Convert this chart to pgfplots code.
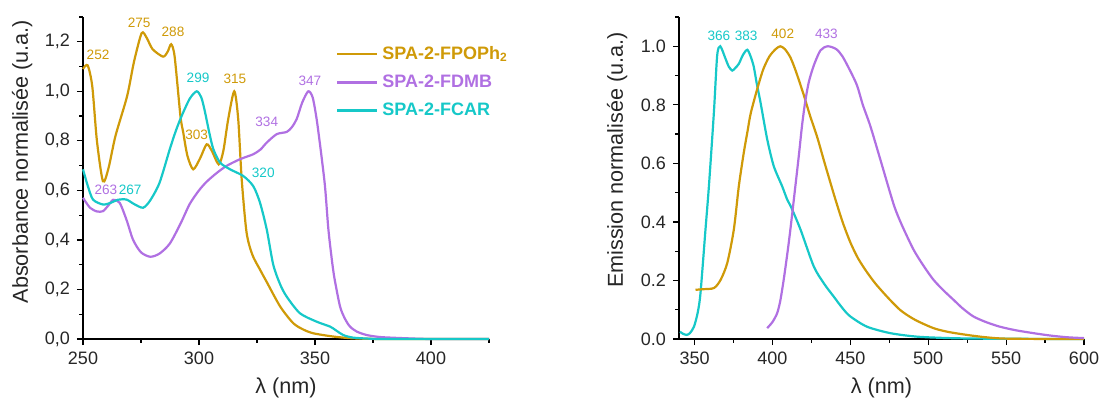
\documentclass[border=0pt]{standalone}
\usepackage{fontspec}
\setmainfont{Liberation Sans}
\usepackage{pgfplots}
\pgfplotsset{compat=1.18}
\definecolor{cgold}{RGB}{207,154,8}
\definecolor{cpurp}{RGB}{176,112,226}
\definecolor{ccyan}{RGB}{22,200,200}
\tikzset{pk/.style={font=\fontsize{6.8}{7}\selectfont}}
\pgfplotsset{
  specstyle/.style={
    scale only axis, width=203pt, height=161pt,
    axis lines=left, axis line style={-, line width=0.65pt, black},
    tick align=outside, major tick length=3pt, minor tick length=1.8pt,
    tick style={black, line width=0.6pt},
    tick label style={font=\fontsize{9}{10}\selectfont, text=black!85},
    label style={font=\fontsize{10.8}{12}\selectfont, text=black!85},
    /pgf/number format/assume math mode=true,
    every axis plot/.append style={line width=1.1pt, smooth, tension=0.45},
    clip=false,
  },
}
\begin{document}
\begin{tikzpicture}
\useasboundingbox (0,0) rectangle (551pt,200.5pt);
% ---------- Absorption ----------
\begin{axis}[specstyle, at={(41.5pt,31pt)}, anchor=south west,
  xmin=250, xmax=425, ymin=0, ymax=1.3,
  xtick={250,300,350,400}, minor xtick={275,325,375,425},
  ytick={0,0.2,0.4,0.6,0.8,1.0,1.2}, minor ytick={0.1,0.3,0.5,0.7,0.9,1.1,1.3},
  yticklabel style={/pgf/number format/.cd, fixed, fixed zerofill, precision=1, use comma},
  xlabel={λ (nm)}, ylabel={Absorbance normalisée (u.a.)},
  xlabel style={at={(axis description cs:0.5,-0.152)}, anchor=center},
  ylabel style={at={(axis description cs:-0.150,0.551)}, anchor=center},
  legend style={at={(0.608,0.935)}, anchor=north west, draw=none, fill=none,
    font=\bfseries\fontsize{9}{10}\selectfont, row sep=2.2pt},
  legend cell align=left,
  legend image code/.code={\draw[#1, sharp plot] (0pt,0pt) -- (20pt,0pt);},
]
\addplot[cgold] coordinates {
(250,1.09) (252,1.105) (254,1.02) (256,0.80) (258.6,0.637) (261,0.69) (264,0.82)
(269,0.98) (272,1.12) (275.3,1.235) (277.5,1.215) (280,1.17) (284.5,1.14)
(286.5,1.16) (288,1.19) (289.5,1.14) (292,0.90) (293.2,0.834) (295,0.74)
(297.5,0.685) (300.5,0.73) (303.3,0.786) (305.5,0.76) (308.5,0.705) (310.5,0.76)
(312.6,0.888) (315.2,1.0) (316.9,0.888) (318.4,0.645) (320.5,0.43) (323,0.34)
(326.3,0.28) (329.2,0.23) (335,0.131) (340.6,0.064) (345,0.038) (349.3,0.023)
(357.8,0.01) (366,0.003) (380,0) (425,0)};
\addlegendentry{\textcolor{cgold}{SPA-2-FPOPh\textsubscript{2}}}
\addplot[cpurp] coordinates {
(250,0.57) (253,0.53) (256,0.515) (258.6,0.516) (261,0.54) (263,0.562) (265.8,0.55)
(268.8,0.48) (271.6,0.40) (275,0.35) (279,0.332) (283,0.345) (287.4,0.385)
(292,0.465) (296,0.545) (300,0.6) (303.3,0.635) (307.6,0.67) (311.9,0.699)
(317.7,0.726) (323.4,0.746) (326.5,0.765) (329.2,0.793) (333.5,0.827) (337.8,0.836)
(340,0.855) (342.1,0.888) (344.5,0.955) (347.1,1.0) (349,0.975) (350.7,0.888)
(352.5,0.76) (354.3,0.617) (355.7,0.45) (357,0.34) (358.3,0.25) (360.8,0.131)
(363,0.08) (365.1,0.05) (368,0.03) (372.3,0.016) (378,0.008) (386.6,0.004)
(400,0) (425,0)};
\addlegendentry{\textcolor{cpurp}{SPA-2-FDMB}}
\addplot[ccyan] coordinates {
(250,0.685) (252,0.62) (254.3,0.563) (258.6,0.543) (262,0.55) (265,0.562)
(268.7,0.563) (272,0.545) (275.9,0.53) (279,0.56) (283,0.631) (287.4,0.766)
(290,0.84) (292.5,0.9) (296,0.97) (299,1.0) (301,0.975) (302.5,0.92) (304.5,0.83)
(306.2,0.766) (309.1,0.712) (313.4,0.685) (319.1,0.658) (323.4,0.617) (326.3,0.55)
(329.2,0.442) (332,0.30) (335,0.22) (337.8,0.171) (343.5,0.104) (350.7,0.07)
(356.5,0.05) (359,0.035) (362.2,0.016) (366,0.006) (372,0.002) (380,0) (425,0)};
\addlegendentry{\textcolor{ccyan}{SPA-2-FCAR}}
\node[pk, text=cgold] at (axis cs:256.5,1.147) {252};
\node[pk, text=cgold] at (axis cs:274.2,1.277) {275};
\node[pk, text=cgold] at (axis cs:288.8,1.242) {288};
\node[pk, text=ccyan] at (axis cs:299.6,1.054) {299};
\node[pk, text=cgold] at (axis cs:315.5,1.05) {315};
\node[pk, text=cpurp] at (axis cs:347.8,1.043) {347};
\node[pk, text=cpurp] at (axis cs:329.2,0.877) {334};
\node[pk, text=cgold] at (axis cs:299,0.823) {303};
\node[pk, text=ccyan] at (axis cs:327.7,0.669) {320};
\node[pk, text=cpurp] at (axis cs:259.9,0.601) {263};
\node[pk, text=ccyan] at (axis cs:270.3,0.601) {267};
\end{axis}
% ---------- Emission ----------
\begin{axis}[specstyle, at={(339.5pt,31pt)}, anchor=south west, width=202.5pt,
  xmin=340, xmax=600, ymin=0, ymax=1.1,
  xtick={350,400,450,500,550,600}, minor xtick={375,425,475,525,575},
  ytick={0,0.2,0.4,0.6,0.8,1.0}, minor ytick={0.1,0.3,0.5,0.7,0.9,1.1},
  yticklabel style={/pgf/number format/.cd, fixed, fixed zerofill, precision=1},
  xlabel={λ (nm)}, ylabel={Emission normalisée (u.a.)},
  xlabel style={at={(axis description cs:0.5,-0.152)}, anchor=center},
  ylabel style={at={(axis description cs:-0.153,0.556)}, anchor=center},
]
\addplot[ccyan] coordinates {
(340.6,0.025) (342.5,0.018) (344.9,0.014) (347,0.02) (349.6,0.042) (352,0.09)
(353.8,0.157) (357,0.374) (359.2,0.522) (362.4,0.774) (364.5,0.968) (366.5,1.0)
(369.9,0.957) (372,0.93) (374.2,0.917) (376,0.925) (378.4,0.94) (381,0.97)
(383.8,0.988) (386,0.965) (388,0.93) (390,0.87) (392.3,0.809) (396.6,0.683)
(400.8,0.591) (406.2,0.522) (409.4,0.477) (412,0.45) (418,0.374) (426.5,0.248)
(433,0.19) (439.3,0.145) (445,0.105) (450,0.077) (460.7,0.042) (475.6,0.02)
(492.8,0.008) (514,0.003) (540,0.001) (600,0)};
\addplot[cgold] coordinates {
(350.6,0.168) (355,0.17) (362.4,0.174) (366.7,0.202) (371,0.26) (375.2,0.374)
(378.4,0.522) (381.6,0.637) (384,0.71) (386,0.77) (390,0.85) (394,0.92)
(398,0.965) (402,0.99) (405,1.0) (408,0.99) (411.5,0.962) (415,0.915) (420,0.835)
(424,0.765) (428.7,0.69) (433,0.61) (437.2,0.534) (440.4,0.477) (445,0.40)
(450,0.33) (455,0.275) (460.7,0.228) (466,0.19) (471.4,0.157) (477,0.125)
(482,0.099) (487,0.08) (492.8,0.062) (503.4,0.037) (513,0.024) (524.8,0.014)
(535,0.007) (546,0.002) (560,0.0005) (600,0)};
\addplot[cpurp] coordinates {
(396.6,0.037) (400,0.058) (403,0.088) (405,0.13) (407.2,0.202) (409.5,0.29)
(411.5,0.374) (414.7,0.522) (417,0.63) (419,0.73) (421,0.81) (423.3,0.877)
(426.5,0.934) (430.8,0.986) (435.5,1.0) (441,0.99) (445,0.965) (450,0.915)
(454.3,0.866) (458,0.80) (462.8,0.728) (469.2,0.614) (477.8,0.46) (483,0.39) (490.6,0.305)
(497,0.25) (503.4,0.202) (510,0.165) (516.2,0.134) (522,0.105) (529,0.077)
(537,0.058) (546,0.042) (556,0.03) (567.5,0.02) (578,0.012) (589,0.006) (600,0.003)};
\node[pk, text=ccyan] at (axis cs:365.6,1.037) {366};
\node[pk, text=ccyan] at (axis cs:383.1,1.037) {383};
\node[pk, text=cgold] at (axis cs:406.6,1.043) {402};
\node[pk, text=cpurp] at (axis cs:434.6,1.043) {433};
\end{axis}
\end{tikzpicture}
\end{document}
